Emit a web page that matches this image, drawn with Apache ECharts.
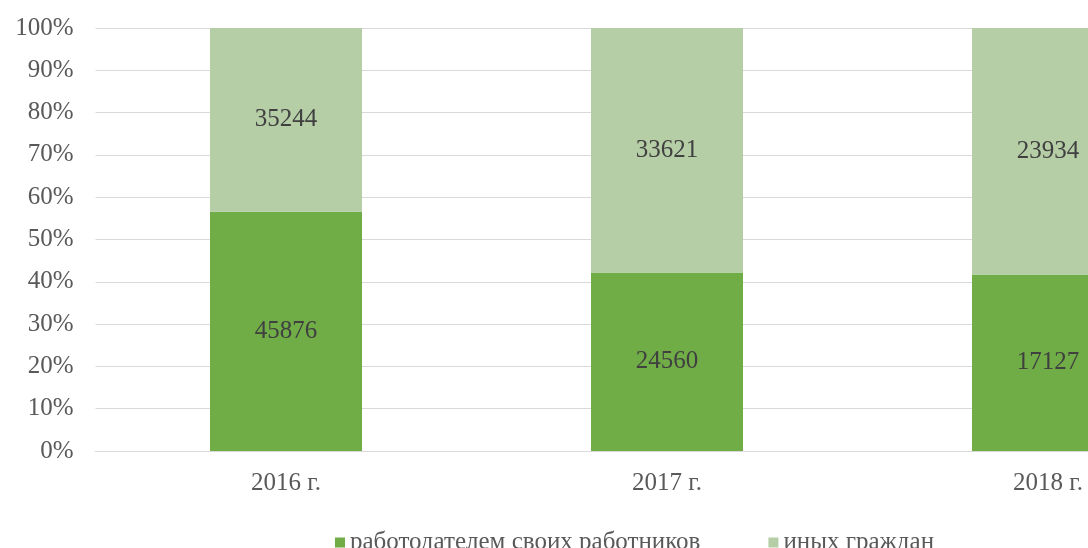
<!DOCTYPE html>
<html>
<head>
<meta charset="utf-8">
<script src="https://cdn.jsdelivr.net/npm/echarts@6/dist/echarts.min.js"></script>
<style>html,body{margin:0;padding:0;background:#fff}#c{width:1088px;height:548px}</style>
</head>
<body>
<div id="c"></div>
<script>
const categories = ['2016 г.', '2017 г.', '2018 г.'];
const employers = [45876, 24560, 17127];
const others = [35244, 33621, 23934];
const seriesNames = ['работодателем своих работников', 'иных граждан'];

const totals = categories.map((_, i) => employers[i] + others[i]);
const toPct = (arr) => arr.map((v, i) => ({ value: v / totals[i] * 100, raw: v }));

const font = 'Liberation Serif, Times New Roman, serif';
const chart = echarts.init(document.getElementById('c'));
chart.setOption({
  animation: false,
  grid: { outerBoundsMode: 'none', left: 95.5, right: -150.5, top: 28, bottom: 97 },
  legend: {
    left: 330, top: 525,
    itemWidth: 10, itemHeight: 10, itemGap: 68,
    icon: 'rect',
    textStyle: { fontFamily: font, fontSize: 25, color: '#595959' },
    data: seriesNames
  },
  xAxis: {
    type: 'category', data: categories,
    axisLine: { lineStyle: { color: '#D9D9D9', width: 1 } },
    axisTick: { show: false },
    axisLabel: { fontFamily: font, fontSize: 25, color: '#595959', margin: 20 }
  },
  yAxis: {
    type: 'value', min: 0, max: 100, interval: 10,
    axisLine: { show: false }, axisTick: { show: false },
    axisLabel: { formatter: '{value}%', fontFamily: font, fontSize: 25, color: '#595959', margin: 22 },
    splitLine: { lineStyle: { color: '#D9D9D9', width: 1 } }
  },
  series: [
    {
      name: seriesNames[0], type: 'bar', stack: 's', barWidth: 152,
      itemStyle: { color: '#70AD47' },
      label: { show: true, position: 'inside', formatter: p => p.data.raw, fontFamily: font, fontSize: 25, color: '#404040' },
      data: toPct(employers)
    },
    {
      name: seriesNames[1], type: 'bar', stack: 's', barWidth: 152,
      itemStyle: { color: '#B5CEA6' },
      label: { show: true, position: 'inside', formatter: p => p.data.raw, fontFamily: font, fontSize: 25, color: '#404040' },
      data: toPct(others)
    }
  ]
});
</script>
</body>
</html>
